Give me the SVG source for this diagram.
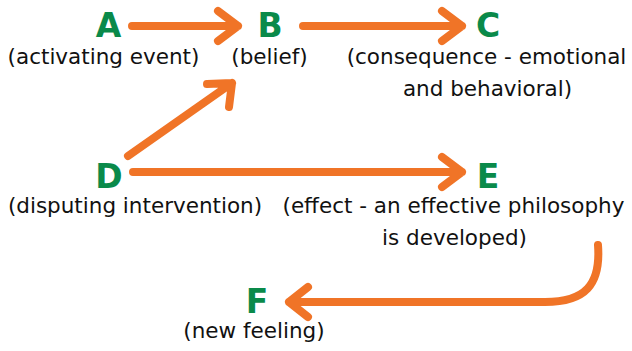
<svg xmlns="http://www.w3.org/2000/svg" width="632" height="351" viewBox="0 0 632 351">
<style>
.letter{font-family:"DejaVu Sans",Verdana,sans-serif;font-weight:bold;font-size:33px;fill:#0a8a4a;text-anchor:middle}
.label{font-family:"DejaVu Sans",Verdana,sans-serif;font-size:21.5px;fill:#111;text-anchor:middle}
.conn{fill:none;stroke:#f07427;stroke-width:8;stroke-linecap:round;stroke-linejoin:round}
</style>
<rect width="632" height="351" fill="#fff"/>
<g id="connectors">
<path class="conn" d="M132,26 L238,26 M218,11 L238,26 L218,41"/>
<path class="conn" d="M303,26 L462,26 M442,11 L462,26 L442,41"/>
<path class="conn" d="M128,156 L232,83 M207,84 L232,83 L229,107"/>
<path class="conn" d="M133,172 L462,172 M442,157 L462,172 L442,187"/>
<path class="conn" d="M598,245 C601,285 585,302 545,302 L289,302 M308,287 L289,302 L308,317"/>
</g>
<g id="node-A"><text class="letter" x="108.5" y="37">A</text><text class="label" x="103.5" y="64">(activating event)</text></g>
<g id="node-B"><text class="letter" x="270" y="37">B</text><text class="label" x="269.5" y="64">(belief)</text></g>
<g id="node-C"><text class="letter" x="488" y="37">C</text><text class="label" x="486.5" y="64">(consequence - emotional</text><text class="label" x="487.5" y="96">and behavioral)</text></g>
<g id="node-D"><text class="letter" x="109" y="188">D</text><text class="label" x="135" y="213">(disputing intervention)</text></g>
<g id="node-E"><text class="letter" x="488" y="188">E</text><text class="label" x="453.5" y="213">(effect - an effective philosophy</text><text class="label" x="454.5" y="245">is developed)</text></g>
<g id="node-F"><text class="letter" x="257" y="313">F</text><text class="label" x="254" y="338">(new feeling)</text></g>
</svg>
